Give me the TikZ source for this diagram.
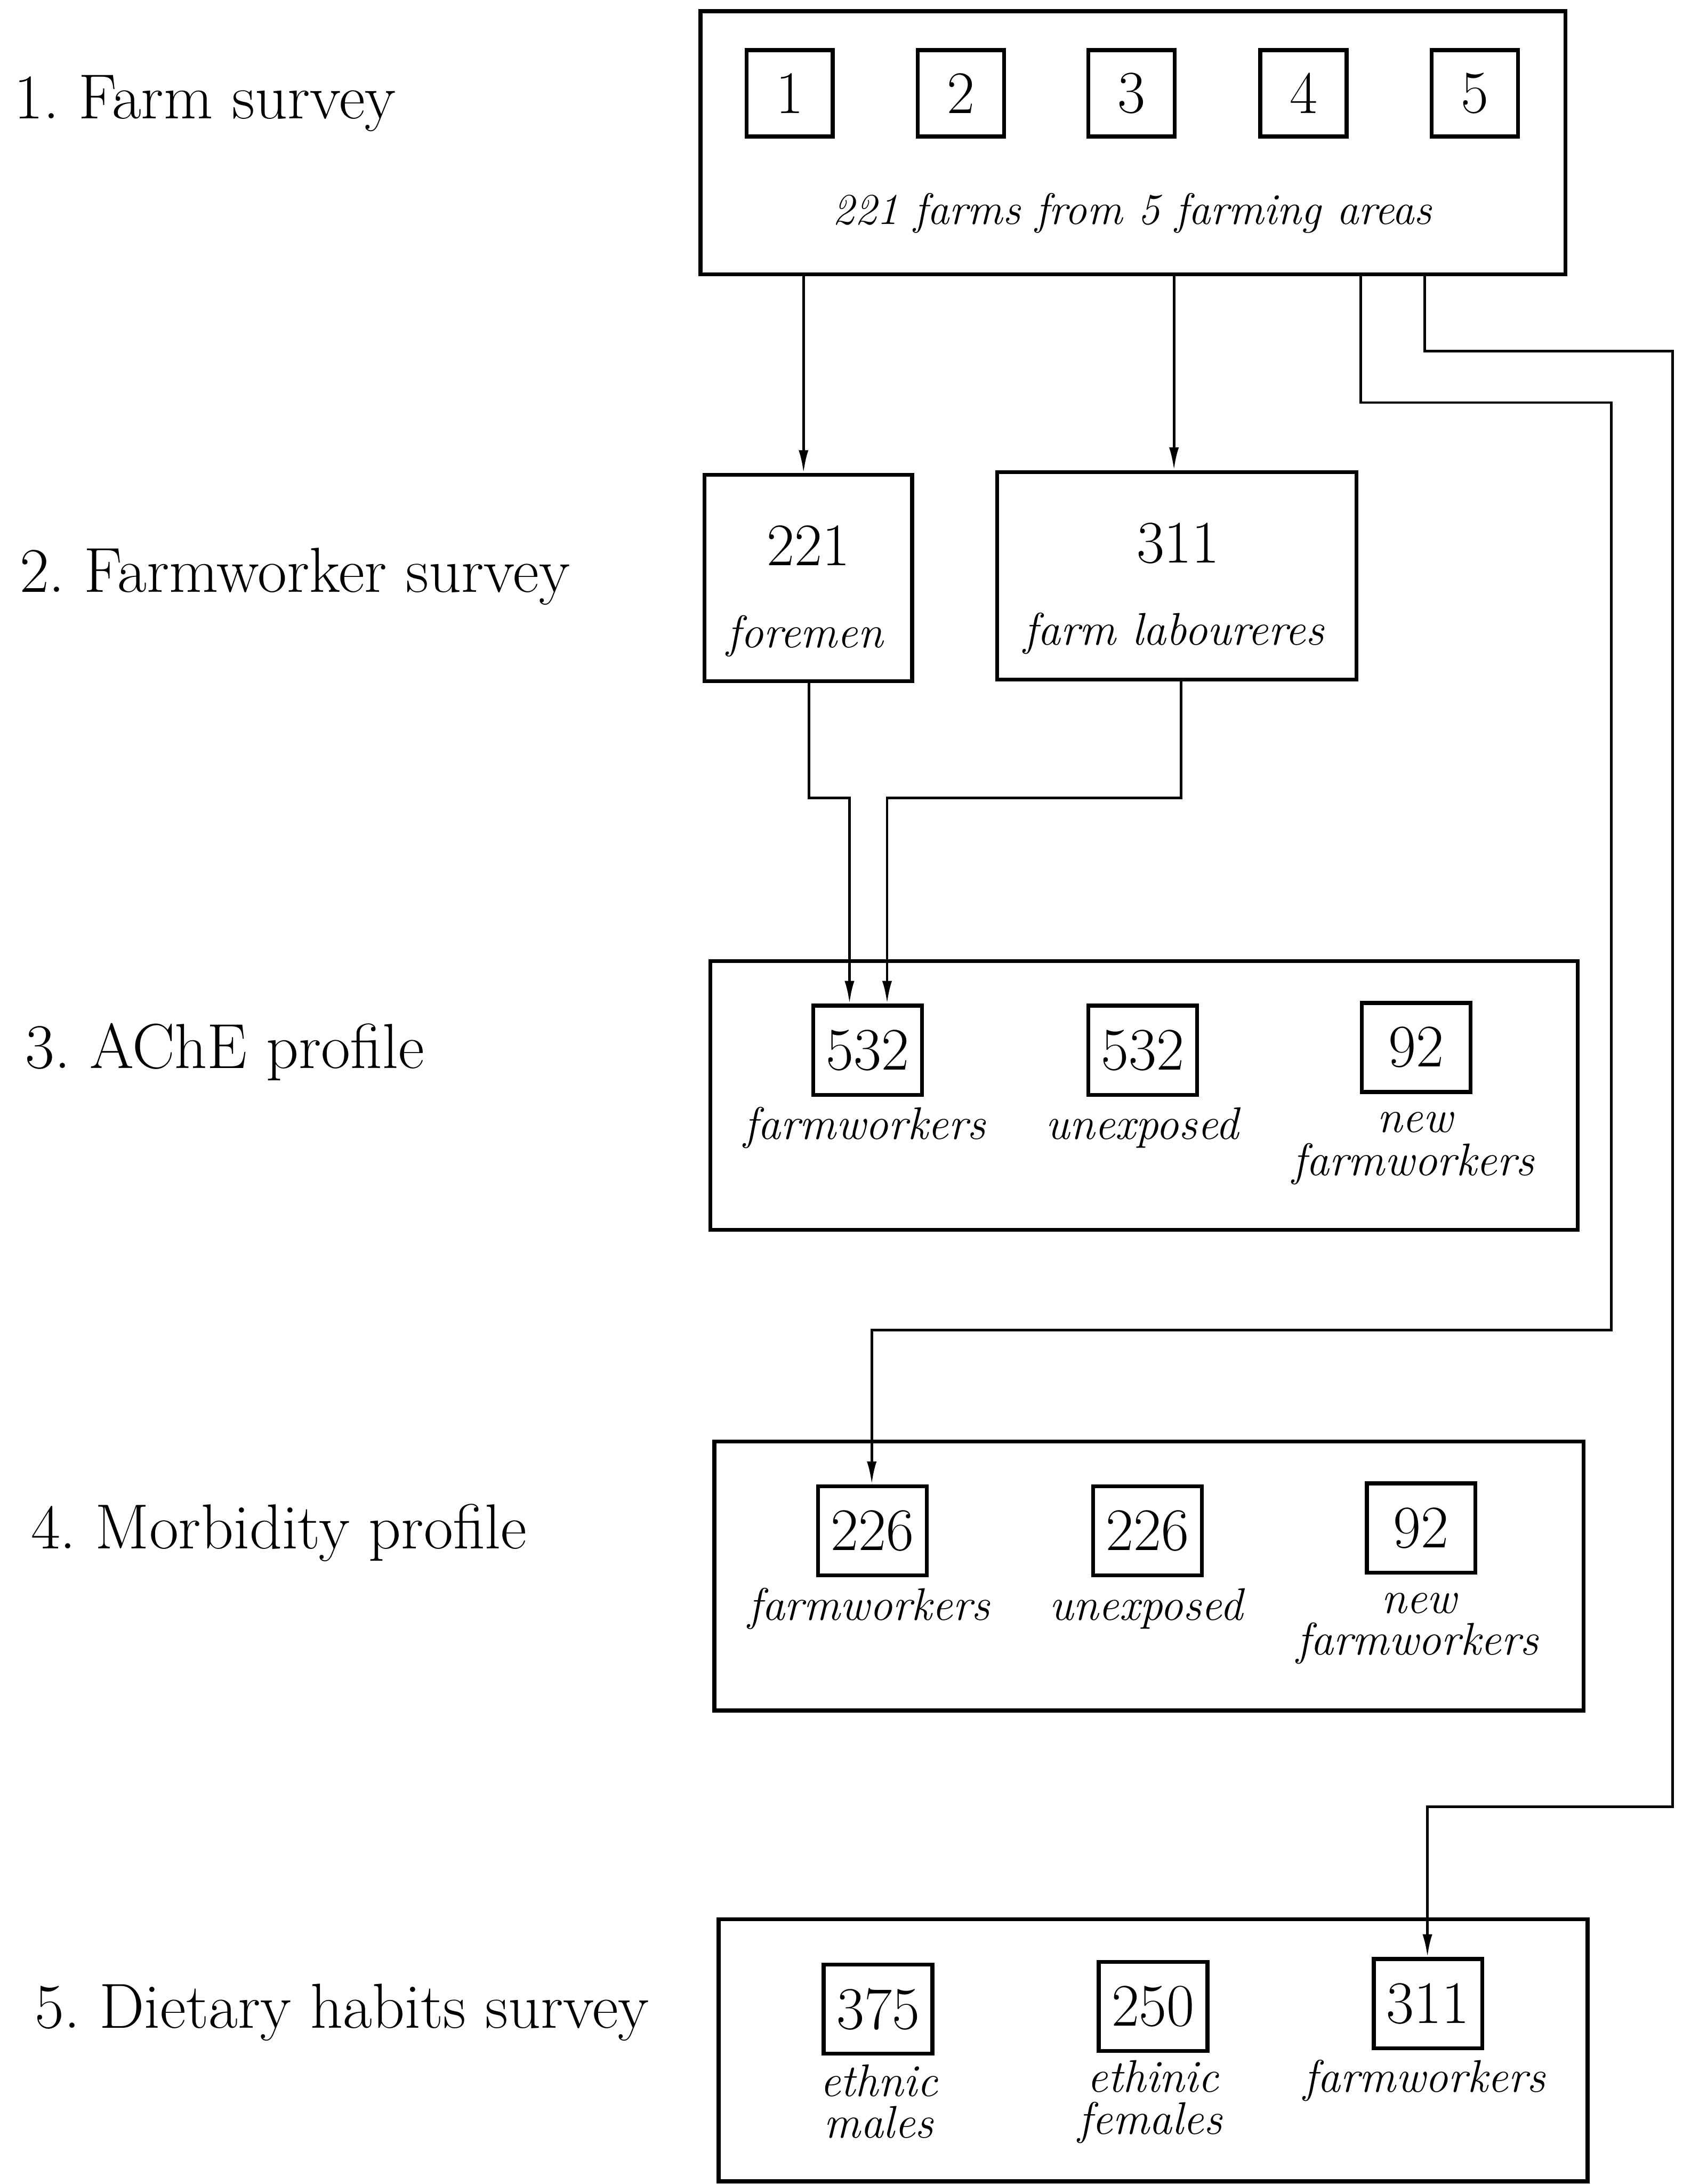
\documentclass[tikz,border=0pt]{standalone}
\usetikzlibrary{arrows.meta}
\newcommand\stagefont{\fontsize{39}{46}\selectfont}
\newcommand\itfont{\fontsize{28}{30}\selectfont\itshape}
\newcommand\numfont{\fontsize{37}{40}\selectfont}
\tikzset{
  bigbox/.style={draw, line width=2.4pt, inner sep=0pt},
  numbox/.style={draw, line width=2.4pt, inner sep=0pt, minimum width=2.34cm, minimum height=1.92cm, font=\numfont},
  sqbox/.style={draw, line width=2.4pt, inner sep=0pt, minimum width=1.86cm, minimum height=1.86cm, font=\numfont},
  lbl/.style={font=\itfont, anchor=base, inner sep=0pt},
  nlbl/.style={font=\numfont, anchor=base, inner sep=0pt},
  stage/.style={font=\stagefont, anchor=base west, inner sep=0pt},
  conn/.style={line width=1.6pt, -{Latex[length=14pt,width=6pt]}},
}
\frenchspacing
\begin{document}
\begin{tikzpicture}[x=0.03cm,y=-0.03cm]
\useasboundingbox (0,0) rectangle (1214,1568);

% stage labels
\node[stage] (s1) at (10,85) {1. Farm survey};
\node[stage] (s2) at (14,425) {2. Farmworker survey};
\node[stage] (s3) at (18,767) {3. AChE profile};
\node[stage] (s4) at (22,1112) {4. Morbidity profile};
\node[stage] (s5) at (25,1456) {5. Dietary habits survey};

% 1. farm survey
\node[bigbox, minimum width=18.63cm, minimum height=5.67cm] (top) at (813.5,102.5) {};
\node[sqbox] (f1) at (567,67) {1};
\node[sqbox] (f2) at (690,67) {2};
\node[sqbox] (f3) at (812.5,67) {3};
\node[sqbox] (f4) at (936,67) {4};
\node[sqbox] (f5) at (1059,67) {5};
\node[lbl, font=\fontsize{27}{30}\selectfont\itshape] (farms) at (813,161) {221 farms from 5 farming areas};

% 2. farmworker survey
\node[bigbox, minimum width=4.47cm, minimum height=4.44cm] (fore) at (580.5,415) {};
\node[nlbl] (fore-n) at (580.5,406) {221};
\node[lbl] (fore-t) at (578,465) {foremen};
\node[bigbox, minimum width=7.74cm, minimum height=4.47cm] (lab) at (845,413.5) {};
\node[nlbl] (lab-n) at (846,404) {311};
\node[lbl] (lab-t) at (843,463) {farm laboureres};

% 3. AChE profile
\node[bigbox, minimum width=18.69cm, minimum height=5.79cm] (ache) at (821.5,786.5) {};
\node[numbox] (a1) at (623,754) {532};
\node[numbox] (a2) at (820.5,754) {532};
\node[numbox] (a3) at (1017,752) {92};
\node[lbl] (a1t) at (621,818) {farmworkers};
\node[lbl] (a2t) at (820,818) {unexposed};
\node[lbl] (a3t) at (1016,813) {new};
\node[lbl] (a3u) at (1015,844) {farmworkers};

% 4. Morbidity profile
\node[bigbox, minimum width=18.72cm, minimum height=5.79cm] (morb) at (825,1131.5) {};
\node[numbox] (m1) at (626.5,1099) {226};
\node[numbox] (m2) at (824,1099) {226};
\node[numbox] (m3) at (1020.5,1097) {92};
\node[lbl] (m1t) at (624,1163) {farmworkers};
\node[lbl] (m2t) at (823,1163) {unexposed};
\node[lbl] (m3t) at (1019,1158) {new};
\node[lbl] (m3u) at (1018,1188) {farmworkers};

% 5. Dietary habits survey
\node[bigbox, minimum width=18.72cm, minimum height=5.64cm] (diet) at (828,1472) {};
\node[numbox] (d1) at (630.5,1442.5) {375};
\node[numbox] (d2) at (828,1440.5) {250};
\node[numbox] (d3) at (1025.5,1438.5) {311};
\node[lbl] (d1t) at (631,1505) {ethnic};
\node[lbl] (d1u) at (631,1535) {males};
\node[lbl] (d2t) at (828,1502) {ethinic};
\node[lbl] (d2u) at (826,1532) {females};
\node[lbl] (d3t) at (1023,1502) {farmworkers};

% connectors
\coordinate (xa) at (577,250);
\coordinate (xb) at (843,250);
\draw[conn] (xa |- top.south) -- (xa |- fore.north);
\draw[conn] (xb |- top.south) -- (xb |- lab.north);

\coordinate (c1) at (977,289);
\coordinate (c2) at (1157,289);
\coordinate (c3) at (1157,955);
\coordinate (c4) at (626,955);
\draw[conn] (c1 |- top.south) -- (c1) -- (c2) -- (c3) -- (c4) -- (c4 |- m1.north);

\coordinate (e1) at (1023,252);
\coordinate (e2) at (1201,252);
\coordinate (e3) at (1201,1297);
\coordinate (e4) at (1025,1297);
\draw[conn] (e1 |- top.south) -- (e1) -- (e2) -- (e3) -- (e4) -- (e4 |- d3.north);

\coordinate (g1) at (581,573);
\coordinate (g2) at (610,573);
\draw[conn] (g1 |- fore.south) -- (g1) -- (g2) -- (g2 |- a1.north);
\coordinate (h1) at (848,573);
\coordinate (h2) at (637,573);
\draw[conn] (h1 |- lab.south) -- (h1) -- (h2) -- (h2 |- a1.north);
\end{tikzpicture}
\end{document}
